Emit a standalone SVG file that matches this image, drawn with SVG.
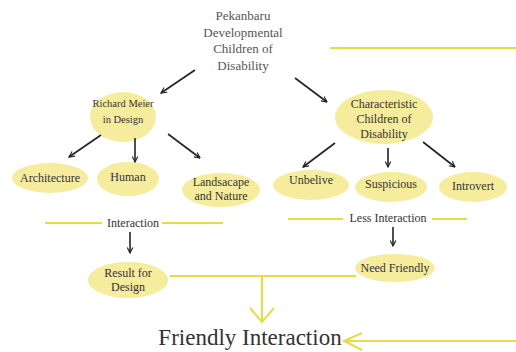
<svg xmlns="http://www.w3.org/2000/svg" width="516" height="352" viewBox="0 0 516 352">
<defs>
<marker id="ah" viewBox="0 0 10 10" refX="9" refY="5" markerWidth="7" markerHeight="7" markerUnits="userSpaceOnUse" orient="auto">
<path d="M1,1 L9,5 L1,9" fill="none" stroke="#222" stroke-width="1.6"/>
</marker>
</defs>
<style>
.n{fill:#f6ec9e;stroke:none}
.t{font-family:"Liberation Serif","Times New Roman",serif;font-size:12px;fill:#333;text-anchor:middle}
.tt{font-family:"Liberation Serif","Times New Roman",serif;font-size:13px;fill:#555;text-anchor:middle}
.a{stroke:#222;stroke-width:1.6;fill:none;marker-end:url(#ah)}
.y{stroke:#e6dc48;stroke-width:2;fill:none}
</style>
<rect width="516" height="352" fill="#fff"/>
<g id="title">
<text class="tt" x="243" y="20">Pekanbaru</text>
<text class="tt" x="243" y="37">Developmental</text>
<text class="tt" x="243" y="53">Children of</text>
<text class="tt" x="243" y="70">Disability</text>
</g>
<g id="meier"><ellipse class="n" cx="123" cy="117" rx="33" ry="25"/>
<text class="t" x="123" y="107" style="font-size:10.5px">Richard Meier</text><text class="t" x="123" y="123" style="font-size:10.5px">in Design</text></g>
<g id="characteristic"><ellipse class="n" cx="384" cy="117" rx="49" ry="27"/>
<text class="t" x="384" y="108">Characteristic</text><text class="t" x="384" y="123">Children of</text><text class="t" x="384" y="138">Disability</text></g>
<g id="architecture"><ellipse class="n" cx="50" cy="178" rx="38" ry="15"/><text class="t" x="50" y="182">Architecture</text></g>
<g id="human"><ellipse class="n" cx="128" cy="179" rx="31" ry="17"/><text class="t" x="128" y="181">Human</text></g>
<g id="landscape"><ellipse class="n" cx="221" cy="190" rx="39" ry="17"/><text class="t" x="221" y="186">Landsacape</text><text class="t" x="221" y="200">and Nature</text></g>
<g id="unbelive"><ellipse class="n" cx="311" cy="185" rx="38" ry="15"/><text class="t" x="311" y="184">Unbelive</text></g>
<g id="suspicious"><ellipse class="n" cx="391" cy="187" rx="36" ry="15"/><text class="t" x="391" y="188">Suspicious</text></g>
<g id="introvert"><ellipse class="n" cx="473" cy="187" rx="34" ry="15"/><text class="t" x="473" y="190">Introvert</text></g>
<g id="interaction"><text class="t" x="133" y="227">Interaction</text></g>
<g id="less"><text class="t" x="388" y="222">Less Interaction</text></g>
<g id="result"><ellipse class="n" cx="128" cy="280" rx="40" ry="18"/><text class="t" x="128" y="277">Result for</text><text class="t" x="128" y="291">Design</text></g>
<g id="need"><ellipse class="n" cx="395" cy="268" rx="40" ry="14"/><text class="t" x="395" y="272">Need Friendly</text></g>
<g id="friendly"><text x="250" y="345" style="font-family:'Liberation Serif','Times New Roman',serif;font-size:23px;fill:#333;text-anchor:middle">Friendly Interaction</text></g>
<g id="connectors">
<line class="a" x1="195" y1="70" x2="161" y2="93"/>
<line class="a" x1="295" y1="78" x2="327" y2="102"/>
<line class="a" x1="101" y1="135" x2="69" y2="157"/>
<line class="a" x1="135" y1="138" x2="135" y2="162"/>
<line class="a" x1="168" y1="134" x2="200" y2="158"/>
<line class="a" x1="335" y1="143" x2="303" y2="167"/>
<line class="a" x1="388" y1="148" x2="388" y2="167"/>
<line class="a" x1="423" y1="142" x2="455" y2="167"/>
<line class="a" x1="130" y1="232" x2="130" y2="253"/>
<line class="a" x1="393" y1="227" x2="393" y2="246"/>
<line class="y" x1="330" y1="48" x2="516" y2="48"/>
<line class="y" x1="45" y1="223" x2="102" y2="223"/>
<line class="y" x1="162" y1="223" x2="223" y2="223"/>
<line class="y" x1="288" y1="219" x2="343" y2="219"/>
<line class="y" x1="432" y1="219" x2="467" y2="219"/>
<line class="y" x1="170" y1="276" x2="356" y2="276"/>
<line class="y" x1="262" y1="276" x2="262" y2="322"/>
<polyline class="y" points="250,308 262,322 274,308"/>
<line class="y" x1="344" y1="341" x2="516" y2="341"/>
<polyline class="y" points="362,333 344,341 362,350"/>
</g>
</svg>
